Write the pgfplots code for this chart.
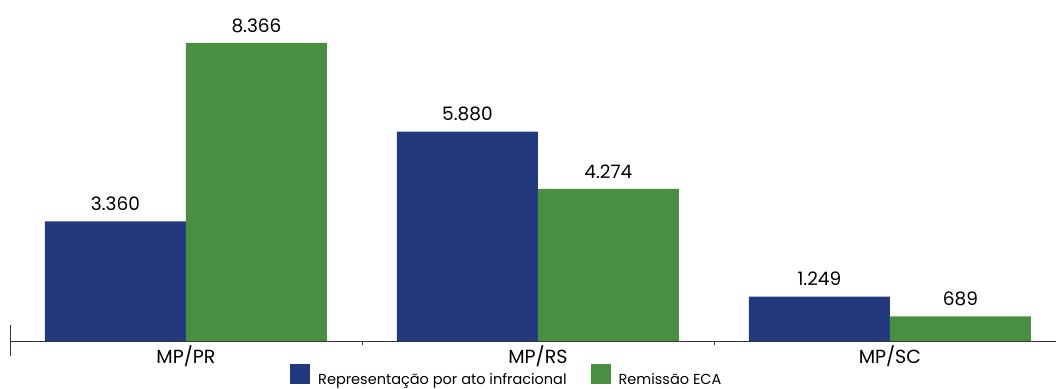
\documentclass[border=0pt]{standalone}
\usepackage{fontspec}
\setmainfont{Poppins}
\usepackage{pgfplots}
\pgfplotsset{compat=1.18}
\definecolor{cblue}{RGB}{35,57,125}
\definecolor{cgreen}{RGB}{74,143,65}
\begin{document}
\begin{tikzpicture}[x=1pt,y=1pt]
\path[use as bounding box] (0,0) rectangle (1056,388);
\begin{axis}[
  at={(10pt,47pt)}, anchor=south west,
  scale only axis, width=1046pt, height=341pt,
  ybar=0pt, bar width=141pt,
  xmin=-0.5, xmax=2.472, ymin=0, ymax=9573,
  axis x line=bottom, axis y line=none,
  x axis line style={black!80, -},
  xtick={0,1,2}, xticklabels={MP/PR,MP/RS,MP/SC},
  major tick length=0pt,
  extra x ticks={0.5,1.5}, extra x tick labels={},
  extra x tick style={major tick length=4pt, tick align=outside, tick style={black!80}},
  xticklabel style={font=\fontsize{19}{21}\selectfont, yshift=-1pt},
  /pgf/number format/1000 sep={.},
  /pgf/number format/assume math mode=true,
  nodes near coords,
  every node near coord/.append style={font=\fontsize{18.5}{20}\selectfont, black, yshift=7pt},
  legend columns=2,
  legend style={at={(0.2677,-0.068)}, anchor=north west, draw=none, fill=none,
    inner sep=0pt, font=\fontsize{14.5}{16}\selectfont,
    /tikz/every odd column/.append style={column sep=6pt},
    /tikz/every even column/.append style={column sep=22pt}},
  legend image code/.code={\draw[#1,draw=none] (0pt,-5pt) rectangle (20pt,15pt);},
]
\addplot[fill=cblue, draw=none] coordinates {(0,3360) (1,5880) (2,1249)};
\addplot[fill=cgreen, draw=none] coordinates {(0,8366) (1,4274) (2,689)};
\legend{Representação por ato infracional, Remissão ECA}
\end{axis}
\draw[black!80] (10,63) -- (10,32);
\end{tikzpicture}
\end{document}
